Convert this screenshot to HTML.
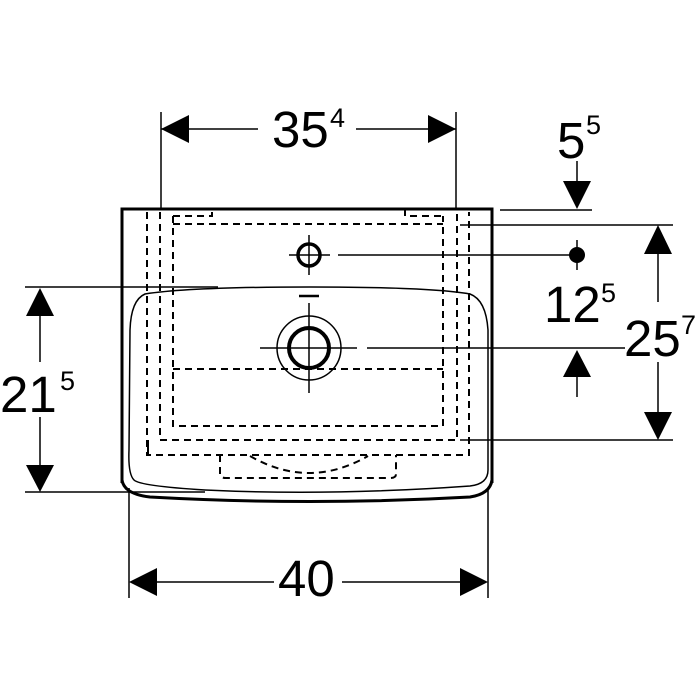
<!DOCTYPE html>
<html><head><style>html,body{margin:0;padding:0;background:#fff}svg{display:block}</style></head>
<body>
<svg width="700" height="700" viewBox="0 0 700 700" xmlns="http://www.w3.org/2000/svg" font-family="Liberation Sans, Arial, sans-serif" fill="none" stroke="#000">
<!-- outer body -->
<path d="M122 483 L122 209 L492 209 L492 483" stroke-width="3"/>
<path d="M122 480 Q124 494 150 497 Q310 506 470 497 Q490 494 492 480" stroke-width="3"/>
<!-- basin inner outline -->
<path d="M145 294 Q190 287 310 287 Q430 287 470 294 Q486 300 488 330 L488 470 Q488 484 470 486 Q330 496 205 490 Q140 486 134 480 Q128 474 129 450 L130 330 Q131 300 145 294 Z" stroke-width="1.5"/>
<!-- dashed rects -->
<g stroke-width="2" stroke-dasharray="7,5">
<path d="M147 212 L147 455 L469 455 L469 212"/>
<path d="M160 212 L160 440 L457 440 L457 212"/>
<path d="M173 216 L173 426 L443 426 L443 216"/>
<path d="M173 224 L443 224"/>
<path d="M173 216 L212 216 L212 209 M405 209 L405 216 L443 216"/>
<path d="M173 369 L443 369"/>
<path d="M220 455 L220 474 Q220 478 226 478 L390 478 Q396 478 396 474 L396 455"/>
<path d="M250 456 Q309 490 368 456"/>
</g>
<path d="M148 440 L148 455" stroke-width="2"/>
<!-- slot -->
<path d="M299 296 L319 296" stroke-width="2.5"/>
<!-- tap hole -->
<circle cx="309" cy="255" r="11" stroke-width="3.5"/>
<path d="M289 255 L330 255 M309 235 L309 275" stroke-width="1.5"/>
<!-- drain -->
<circle cx="309" cy="348" r="32" stroke-width="1.5"/>
<circle cx="309" cy="348" r="20" stroke-width="4"/>
<path d="M260 348 L357 348 M309 303 L309 393" stroke-width="1.5"/>
<!-- dimension lines -->
<g stroke-width="1.5">
<path d="M161 112 L161 209 M456 112 L456 209"/>
<path d="M161 129 L258 129 M356 129 L456 129"/>
<path d="M500 210 L592 210 M577 161 L577 185"/>
<path d="M460 225 L673 225 M460 440 L673 440"/>
<path d="M658 250 L658 302 M658 362 L658 415"/>
<path d="M338 255 L577 255 M577 240 L577 270"/>
<path d="M367 348 L625 348 M577 372 L577 397"/>
<path d="M25 287 L218 287 M25 492 L205 492"/>
<path d="M40 312 L40 362 M40 417 L40 468"/>
<path d="M129 488 L129 598 M488 488 L488 598"/>
<path d="M150 582 L274 582 M342 582 L466 582"/>
</g>
<g fill="#000" stroke="none">
<polygon points="161,129 189,115 189,143"/>
<polygon points="456,129 428,115 428,143"/>
<polygon points="577,209 563,181 591,181"/>
<polygon points="658,225 644,254 672,254"/>
<polygon points="658,440 644,412 672,412"/>
<circle cx="577" cy="255" r="8"/>
<polygon points="577,350 563,377 591,377"/>
<polygon points="40,288 26,316 54,316"/>
<polygon points="40,492 26,465 54,465"/>
<polygon points="129,582 157,568 157,596"/>
<polygon points="488,582 460,568 460,596"/>
<text x="272" y="147" font-size="51">35</text>
<text x="330" y="127" font-size="27">4</text>
<text x="557" y="158" font-size="51">5</text>
<text x="586" y="134" font-size="27">5</text>
<text x="544" y="322" font-size="51">12</text>
<text x="601" y="302" font-size="27">5</text>
<text x="624" y="356" font-size="51">25</text>
<text x="681" y="334" font-size="27">7</text>
<text x="0" y="412" font-size="51">21</text>
<text x="60" y="390" font-size="27">5</text>
<text x="278" y="596" font-size="51">40</text>
</g>
</svg>
</body></html>
